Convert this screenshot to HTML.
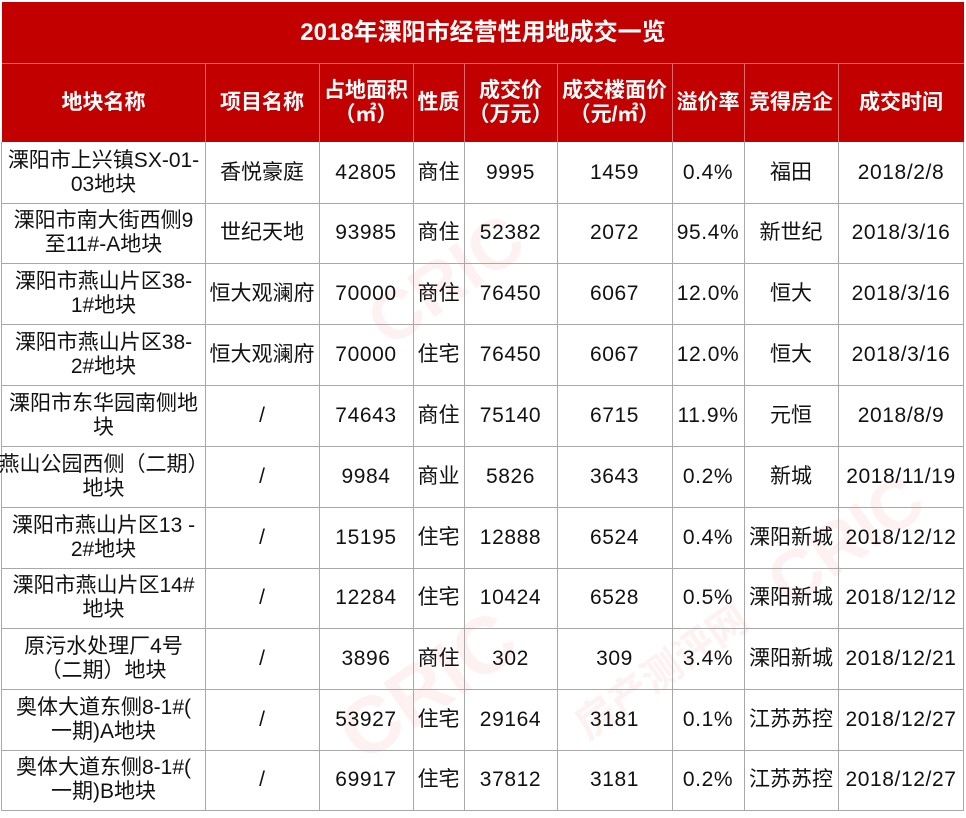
<!DOCTYPE html>
<html><head><meta charset="utf-8">
<style>
html,body{margin:0;padding:0;background:#fff;}
body{width:966px;height:818px;position:relative;overflow:hidden;font-family:"Liberation Sans","Noto Sans CJK SC",sans-serif;}
.c{position:absolute;display:flex;align-items:center;justify-content:center;text-align:center;font-size:21px;line-height:24px;color:#111;white-space:nowrap;}
.n{letter-spacing:0.6px;}
.h{color:#fff;font-weight:bold;}
.vl{position:absolute;width:1px;background:#a8a8a8;}
.hl{position:absolute;height:1px;background:#a8a8a8;}
.wm{position:absolute;color:rgba(225,60,60,0.07);font-weight:bold;white-space:nowrap;transform:rotate(-35deg);transform-origin:center;}
</style></head><body>
<div style="position:absolute;left:2px;top:2px;width:962px;height:140px;background:#c20000;"></div>

<div class="wm" style="left:330px;top:640px;font-size:80px;">CRIC</div>
<div class="wm" style="left:560px;top:640px;font-size:40px;">房产测评网</div>
<div class="wm" style="left:360px;top:240px;font-size:70px;">CRIC</div>
<div class="wm" style="left:760px;top:500px;font-size:70px;">CRIC</div>

<div class="c h" style="left:2px;top:2px;width:962px;height:62px;font-size:24px;">2018年溧阳市经营性用地成交一览</div>

<!-- header -->
<div class="c h" style="left:2px;top:63px;width:203px;height:79px;">地块名称</div>
<div class="c h" style="left:205px;top:63px;width:114px;height:79px;">项目名称</div>
<div class="c h" style="left:319px;top:63px;width:94px;height:79px;">占地面积<br>（㎡）</div>
<div class="c h" style="left:413px;top:63px;width:51px;height:79px;">性质</div>
<div class="c h" style="left:464px;top:63px;width:93px;height:79px;">成交价<br>（万元）</div>
<div class="c h" style="left:557px;top:63px;width:115px;height:79px;">成交楼面价<br>（元/㎡）</div>
<div class="c h" style="left:672px;top:63px;width:72px;height:79px;">溢价率</div>
<div class="c h" style="left:744px;top:63px;width:94px;height:79px;">竞得房企</div>
<div class="c h" style="left:838px;top:63px;width:126px;height:79px;">成交时间</div>

<!-- header lines -->
<div style="position:absolute;left:2px;top:63px;width:962px;height:1px;background:#dc6a6a;"></div>
<div style="position:absolute;left:205px;top:63px;width:1px;height:79px;background:#dc6a6a;"></div>
<div style="position:absolute;left:319px;top:63px;width:1px;height:79px;background:#dc6a6a;"></div>
<div style="position:absolute;left:413px;top:63px;width:1px;height:79px;background:#dc6a6a;"></div>
<div style="position:absolute;left:464px;top:63px;width:1px;height:79px;background:#dc6a6a;"></div>
<div style="position:absolute;left:557px;top:63px;width:1px;height:79px;background:#dc6a6a;"></div>
<div style="position:absolute;left:672px;top:63px;width:1px;height:79px;background:#dc6a6a;"></div>
<div style="position:absolute;left:744px;top:63px;width:1px;height:79px;background:#dc6a6a;"></div>
<div style="position:absolute;left:838px;top:63px;width:1px;height:79px;background:#dc6a6a;"></div>

<!-- body vertical lines -->
<div class="vl" style="left:1px;top:142px;height:669px;"></div>
<div class="vl" style="left:205px;top:142px;height:669px;"></div>
<div class="vl" style="left:319px;top:142px;height:669px;"></div>
<div class="vl" style="left:413px;top:142px;height:669px;"></div>
<div class="vl" style="left:464px;top:142px;height:669px;"></div>
<div class="vl" style="left:557px;top:142px;height:669px;"></div>
<div class="vl" style="left:672px;top:142px;height:669px;"></div>
<div class="vl" style="left:744px;top:142px;height:669px;"></div>
<div class="vl" style="left:838px;top:142px;height:669px;"></div>
<div class="vl" style="left:963px;top:142px;height:669px;"></div>

<!-- body horizontal lines -->
<div class="hl" style="left:1px;top:203px;width:963px;"></div>
<div class="hl" style="left:1px;top:263px;width:963px;"></div>
<div class="hl" style="left:1px;top:324px;width:963px;"></div>
<div class="hl" style="left:1px;top:385px;width:963px;"></div>
<div class="hl" style="left:1px;top:446px;width:963px;"></div>
<div class="hl" style="left:1px;top:507px;width:963px;"></div>
<div class="hl" style="left:1px;top:568px;width:963px;"></div>
<div class="hl" style="left:1px;top:628px;width:963px;"></div>
<div class="hl" style="left:1px;top:689px;width:963px;"></div>
<div class="hl" style="left:1px;top:750px;width:963px;"></div>
<div class="hl" style="left:1px;top:810px;width:963px;"></div>

<!-- row 1 -->
<div class="c" style="left:2px;top:142px;width:203px;height:61px;">溧阳市上兴镇SX-01-<br>03地块</div>
<div class="c" style="left:205px;top:142px;width:114px;height:61px;">香悦豪庭</div>
<div class="c n" style="left:319px;top:142px;width:94px;height:61px;">42805</div>
<div class="c" style="left:413px;top:142px;width:51px;height:61px;">商住</div>
<div class="c n" style="left:464px;top:142px;width:93px;height:61px;">9995</div>
<div class="c n" style="left:557px;top:142px;width:115px;height:61px;">1459</div>
<div class="c n" style="left:672px;top:142px;width:72px;height:61px;">0.4%</div>
<div class="c" style="left:744px;top:142px;width:94px;height:61px;">福田</div>
<div class="c n" style="left:838px;top:142px;width:126px;height:61px;">2018/2/8</div>
<!-- row 2 -->
<div class="c" style="left:2px;top:203px;width:203px;height:60px;">溧阳市南大街西侧9<br>至11#-A地块</div>
<div class="c" style="left:205px;top:203px;width:114px;height:60px;">世纪天地</div>
<div class="c n" style="left:319px;top:203px;width:94px;height:60px;">93985</div>
<div class="c" style="left:413px;top:203px;width:51px;height:60px;">商住</div>
<div class="c n" style="left:464px;top:203px;width:93px;height:60px;">52382</div>
<div class="c n" style="left:557px;top:203px;width:115px;height:60px;">2072</div>
<div class="c n" style="left:672px;top:203px;width:72px;height:60px;">95.4%</div>
<div class="c" style="left:744px;top:203px;width:94px;height:60px;">新世纪</div>
<div class="c n" style="left:838px;top:203px;width:126px;height:60px;">2018/3/16</div>
<!-- row 3 -->
<div class="c" style="left:2px;top:263px;width:203px;height:61px;">溧阳市燕山片区38-<br>1#地块</div>
<div class="c" style="left:205px;top:263px;width:114px;height:61px;">恒大观澜府</div>
<div class="c n" style="left:319px;top:263px;width:94px;height:61px;">70000</div>
<div class="c" style="left:413px;top:263px;width:51px;height:61px;">商住</div>
<div class="c n" style="left:464px;top:263px;width:93px;height:61px;">76450</div>
<div class="c n" style="left:557px;top:263px;width:115px;height:61px;">6067</div>
<div class="c n" style="left:672px;top:263px;width:72px;height:61px;">12.0%</div>
<div class="c" style="left:744px;top:263px;width:94px;height:61px;">恒大</div>
<div class="c n" style="left:838px;top:263px;width:126px;height:61px;">2018/3/16</div>
<!-- row 4 -->
<div class="c" style="left:2px;top:324px;width:203px;height:61px;">溧阳市燕山片区38-<br>2#地块</div>
<div class="c" style="left:205px;top:324px;width:114px;height:61px;">恒大观澜府</div>
<div class="c n" style="left:319px;top:324px;width:94px;height:61px;">70000</div>
<div class="c" style="left:413px;top:324px;width:51px;height:61px;">住宅</div>
<div class="c n" style="left:464px;top:324px;width:93px;height:61px;">76450</div>
<div class="c n" style="left:557px;top:324px;width:115px;height:61px;">6067</div>
<div class="c n" style="left:672px;top:324px;width:72px;height:61px;">12.0%</div>
<div class="c" style="left:744px;top:324px;width:94px;height:61px;">恒大</div>
<div class="c n" style="left:838px;top:324px;width:126px;height:61px;">2018/3/16</div>
<!-- row 5 -->
<div class="c" style="left:2px;top:385px;width:203px;height:61px;">溧阳市东华园南侧地<br>块</div>
<div class="c" style="left:205px;top:385px;width:114px;height:61px;">/</div>
<div class="c n" style="left:319px;top:385px;width:94px;height:61px;">74643</div>
<div class="c" style="left:413px;top:385px;width:51px;height:61px;">商住</div>
<div class="c n" style="left:464px;top:385px;width:93px;height:61px;">75140</div>
<div class="c n" style="left:557px;top:385px;width:115px;height:61px;">6715</div>
<div class="c n" style="left:672px;top:385px;width:72px;height:61px;">11.9%</div>
<div class="c" style="left:744px;top:385px;width:94px;height:61px;">元恒</div>
<div class="c n" style="left:838px;top:385px;width:126px;height:61px;">2018/8/9</div>
<!-- row 6 -->
<div class="c" style="left:2px;top:446px;width:203px;height:61px;">燕山公园西侧（二期）<br>地块</div>
<div class="c" style="left:205px;top:446px;width:114px;height:61px;">/</div>
<div class="c n" style="left:319px;top:446px;width:94px;height:61px;">9984</div>
<div class="c" style="left:413px;top:446px;width:51px;height:61px;">商业</div>
<div class="c n" style="left:464px;top:446px;width:93px;height:61px;">5826</div>
<div class="c n" style="left:557px;top:446px;width:115px;height:61px;">3643</div>
<div class="c n" style="left:672px;top:446px;width:72px;height:61px;">0.2%</div>
<div class="c" style="left:744px;top:446px;width:94px;height:61px;">新城</div>
<div class="c n" style="left:838px;top:446px;width:126px;height:61px;">2018/11/19</div>
<!-- row 7 -->
<div class="c" style="left:2px;top:507px;width:203px;height:61px;">溧阳市燕山片区13 -<br>2#地块</div>
<div class="c" style="left:205px;top:507px;width:114px;height:61px;">/</div>
<div class="c n" style="left:319px;top:507px;width:94px;height:61px;">15195</div>
<div class="c" style="left:413px;top:507px;width:51px;height:61px;">住宅</div>
<div class="c n" style="left:464px;top:507px;width:93px;height:61px;">12888</div>
<div class="c n" style="left:557px;top:507px;width:115px;height:61px;">6524</div>
<div class="c n" style="left:672px;top:507px;width:72px;height:61px;">0.4%</div>
<div class="c" style="left:744px;top:507px;width:94px;height:61px;">溧阳新城</div>
<div class="c n" style="left:838px;top:507px;width:126px;height:61px;">2018/12/12</div>
<!-- row 8 -->
<div class="c" style="left:2px;top:568px;width:203px;height:60px;">溧阳市燕山片区14#<br>地块</div>
<div class="c" style="left:205px;top:568px;width:114px;height:60px;">/</div>
<div class="c n" style="left:319px;top:568px;width:94px;height:60px;">12284</div>
<div class="c" style="left:413px;top:568px;width:51px;height:60px;">住宅</div>
<div class="c n" style="left:464px;top:568px;width:93px;height:60px;">10424</div>
<div class="c n" style="left:557px;top:568px;width:115px;height:60px;">6528</div>
<div class="c n" style="left:672px;top:568px;width:72px;height:60px;">0.5%</div>
<div class="c" style="left:744px;top:568px;width:94px;height:60px;">溧阳新城</div>
<div class="c n" style="left:838px;top:568px;width:126px;height:60px;">2018/12/12</div>
<!-- row 9 -->
<div class="c" style="left:2px;top:628px;width:203px;height:61px;">原污水处理厂4号<br>（二期）地块</div>
<div class="c" style="left:205px;top:628px;width:114px;height:61px;">/</div>
<div class="c n" style="left:319px;top:628px;width:94px;height:61px;">3896</div>
<div class="c" style="left:413px;top:628px;width:51px;height:61px;">商住</div>
<div class="c n" style="left:464px;top:628px;width:93px;height:61px;">302</div>
<div class="c n" style="left:557px;top:628px;width:115px;height:61px;">309</div>
<div class="c n" style="left:672px;top:628px;width:72px;height:61px;">3.4%</div>
<div class="c" style="left:744px;top:628px;width:94px;height:61px;">溧阳新城</div>
<div class="c n" style="left:838px;top:628px;width:126px;height:61px;">2018/12/21</div>
<!-- row 10 -->
<div class="c" style="left:2px;top:689px;width:203px;height:61px;">奥体大道东侧8-1#(<br>一期)A地块</div>
<div class="c" style="left:205px;top:689px;width:114px;height:61px;">/</div>
<div class="c n" style="left:319px;top:689px;width:94px;height:61px;">53927</div>
<div class="c" style="left:413px;top:689px;width:51px;height:61px;">住宅</div>
<div class="c n" style="left:464px;top:689px;width:93px;height:61px;">29164</div>
<div class="c n" style="left:557px;top:689px;width:115px;height:61px;">3181</div>
<div class="c n" style="left:672px;top:689px;width:72px;height:61px;">0.1%</div>
<div class="c" style="left:744px;top:689px;width:94px;height:61px;">江苏苏控</div>
<div class="c n" style="left:838px;top:689px;width:126px;height:61px;">2018/12/27</div>
<!-- row 11 -->
<div class="c" style="left:2px;top:750px;width:203px;height:60px;">奥体大道东侧8-1#(<br>一期)B地块</div>
<div class="c" style="left:205px;top:750px;width:114px;height:60px;">/</div>
<div class="c n" style="left:319px;top:750px;width:94px;height:60px;">69917</div>
<div class="c" style="left:413px;top:750px;width:51px;height:60px;">住宅</div>
<div class="c n" style="left:464px;top:750px;width:93px;height:60px;">37812</div>
<div class="c n" style="left:557px;top:750px;width:115px;height:60px;">3181</div>
<div class="c n" style="left:672px;top:750px;width:72px;height:60px;">0.2%</div>
<div class="c" style="left:744px;top:750px;width:94px;height:60px;">江苏苏控</div>
<div class="c n" style="left:838px;top:750px;width:126px;height:60px;">2018/12/27</div>
</body></html>
